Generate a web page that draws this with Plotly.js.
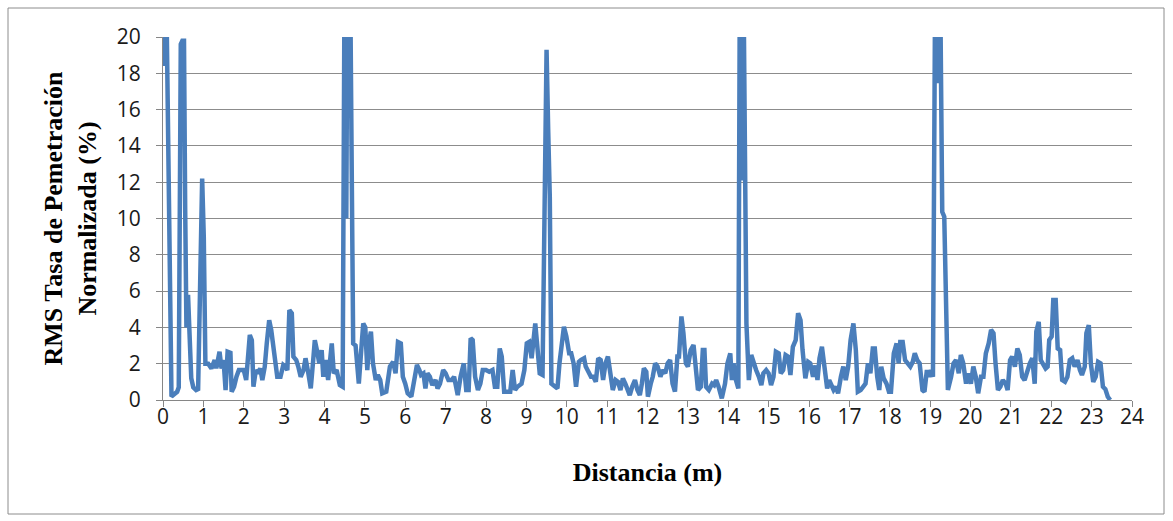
<!DOCTYPE html>
<html>
<head>
<meta charset="utf-8">
<script src="https://cdn.plot.ly/plotly-3.0.1.min.js"></script>
<style>
  html, body { margin: 0; padding: 0; background: #fff; }
  #chart { width: 1173px; height: 521px; }
</style>
</head>
<body>
<div id="chart"></div>
<script>
// Distancia recorrida (m)
const distancia = [
  0.00, 0.05, 0.09, 0.21, 0.27, 0.35, 0.39, 0.44, 0.48, 0.52, 0.55, 0.58, 0.62, 0.66, 0.70, 0.75, 0.82, 0.87, 0.92, 0.97,
  1.01, 1.05, 1.12, 1.20, 1.28, 1.32, 1.40, 1.45, 1.50, 1.55, 1.60, 1.67, 1.70, 1.76, 1.82, 1.88, 2.00, 2.06, 2.15, 2.20,
  2.24, 2.30, 2.36, 2.41, 2.46, 2.52, 2.57, 2.63, 2.68, 2.75, 2.83, 2.91, 2.98, 3.03, 3.08, 3.13, 3.19, 3.23, 3.30, 3.35,
  3.41, 3.48, 3.53, 3.60, 3.66, 3.72, 3.76, 3.82, 3.87, 3.93, 3.97, 4.03, 4.09, 4.18, 4.23, 4.30, 4.38, 4.45, 4.50, 4.54,
  4.57, 4.64, 4.71, 4.77, 4.85, 4.91, 4.96, 5.01, 5.06, 5.11, 5.15, 5.20, 5.27, 5.32, 5.38, 5.43, 5.53, 5.62, 5.70, 5.76,
  5.82, 5.89, 5.94, 6.00, 6.06, 6.15, 6.23, 6.29, 6.35, 6.39, 6.45, 6.50, 6.55, 6.61, 6.67, 6.75, 6.80, 6.86, 6.94, 7.00,
  7.07, 7.15, 7.21, 7.26, 7.30, 7.37, 7.45, 7.51, 7.57, 7.62, 7.67, 7.73, 7.80, 7.86, 7.92, 8.00, 8.08, 8.16, 8.22, 8.28,
  8.34, 8.39, 8.45, 8.53, 8.60, 8.66, 8.72, 8.78, 8.88, 8.95, 9.01, 9.07, 9.13, 9.22, 9.29, 9.33, 9.40, 9.46, 9.50, 9.54,
  9.58, 9.62, 9.71, 9.77, 9.82, 9.87, 9.93, 9.99, 10.06, 10.11, 10.17, 10.23, 10.30, 10.35, 10.43, 10.47, 10.54, 10.60, 10.66, 10.72,
  10.78, 10.84, 10.90, 10.96, 11.02, 11.08, 11.14, 11.21, 11.27, 11.33, 11.39, 11.45, 11.51, 11.56, 11.62, 11.69, 11.75, 11.81, 11.86, 11.91,
  11.97, 12.01, 12.08, 12.13, 12.19, 12.25, 12.32, 12.38, 12.44, 12.50, 12.56, 12.62, 12.68, 12.74, 12.78, 12.84, 12.89, 12.95, 13.00, 13.07,
  13.14, 13.19, 13.25, 13.32, 13.37, 13.41, 13.45, 13.52, 13.60, 13.65, 13.70, 13.76, 13.84, 13.92, 13.98, 14.05, 14.09, 14.13, 14.19, 14.25,
  14.29, 14.33, 14.37, 14.45, 14.51, 14.57, 14.63, 14.69, 14.76, 14.82, 14.87, 14.94, 15.00, 15.06, 15.12, 15.18, 15.25, 15.30, 15.36, 15.42,
  15.48, 15.54, 15.60, 15.67, 15.73, 15.79, 15.84, 15.91, 15.98, 16.03, 16.10, 16.16, 16.21, 16.26, 16.32, 16.38, 16.45, 16.50, 16.56, 16.61,
  16.67, 16.72, 16.79, 16.85, 16.91, 16.97, 17.03, 17.10, 17.16, 17.21, 17.28, 17.34, 17.40, 17.46, 17.52, 17.58, 17.63, 17.69, 17.74, 17.79,
  17.85, 17.92, 17.98, 18.03, 18.10, 18.17, 18.22, 18.26, 18.32, 18.38, 18.44, 18.51, 18.57, 18.62, 18.68, 18.74, 18.81, 18.86, 18.92, 18.97,
  19.02, 19.07, 19.13, 19.19, 19.24, 19.30, 19.35, 19.44, 19.52, 19.58, 19.64, 19.71, 19.76, 19.82, 19.89, 19.94, 20.01, 20.07, 20.13, 20.19,
  20.26, 20.32, 20.38, 20.45, 20.51, 20.57, 20.62, 20.68, 20.74, 20.80, 20.87, 20.92, 20.98, 21.03, 21.10, 21.16, 21.22, 21.28, 21.34, 21.41,
  21.47, 21.53, 21.59, 21.63, 21.69, 21.74, 21.80, 21.86, 21.91, 21.95, 22.01, 22.05, 22.11, 22.16, 22.22, 22.27, 22.34, 22.40, 22.46, 22.52,
  22.58, 22.65, 22.71, 22.76, 22.83, 22.87, 22.93, 22.98, 23.04, 23.10, 23.16, 23.22, 23.28, 23.34, 23.40, 23.46
];

// RMS de la tasa de penetración normalizada (%)
const rmsTasa = [
  22.0, 18.4, 21.0, 0.2, 0.3, 0.45, 0.7, 19.6, 19.8, 19.8, 10.4, 4.0, 5.8, 3.9, 1.2, 0.7, 0.55, 0.6, 6.0, 12.2,
  9.0, 2.0, 2.0, 1.74, 2.2, 1.74, 2.66, 1.74, 2.2, 0.55, 2.66, 2.6, 0.46, 0.73, 1.28, 1.65, 1.65, 1.1, 3.58, 3.3,
  0.73, 1.65, 1.47, 1.74, 1.1, 1.84, 3.12, 4.4, 3.86, 2.75, 1.28, 1.28, 1.93, 1.84, 1.65, 4.96, 4.78, 2.39, 2.2, 1.84,
  1.28, 1.65, 2.3, 1.47, 0.64, 2.2, 3.3, 2.66, 2.02, 2.75, 1.28, 2.2, 1.1, 3.12, 1.47, 1.65, 0.82, 0.73, 25.0, 10.0,
  24.0, 22.0, 3.12, 3.0, 0.9, 2.75, 4.22, 4.0, 1.65, 3.3, 3.77, 2.02, 1.1, 1.38, 1.1, 0.37, 0.46, 1.84, 2.1, 1.47,
  3.2, 3.12, 1.28, 0.9, 0.37, 0.18, 1.1, 1.93, 1.65, 1.38, 1.47, 0.64, 1.47, 1.28, 0.82, 1.1, 0.64, 0.9, 1.65, 1.47,
  1.1, 1.1, 1.28, 0.73, 0.27, 1.28, 2.02, 0.55, 0.55, 3.4, 3.3, 1.28, 0.55, 0.9, 1.65, 1.65, 1.56, 1.65, 0.73, 0.73,
  2.84, 2.39, 0.46, 0.46, 0.46, 1.65, 0.55, 0.73, 0.9, 1.65, 3.12, 3.2, 2.3, 4.22, 2.75, 1.47, 1.38, 10.8, 19.3, 14.9,
  11.2, 0.9, 0.73, 0.64, 2.02, 2.93, 4.04, 3.5, 2.57, 2.57, 2.02, 0.73, 2.1, 2.2, 2.3, 1.84, 1.47, 1.28, 1.28, 1.0,
  2.3, 2.2, 1.1, 2.02, 2.39, 1.28, 0.55, 1.1, 1.0, 0.55, 1.19, 0.9, 0.55, 0.27, 0.73, 1.1, 0.55, 0.27, 0.9, 1.74,
  1.56, 0.18, 0.9, 1.28, 2.02, 1.84, 1.28, 1.65, 1.47, 2.02, 2.2, 0.9, 0.46, 2.39, 2.39, 4.6, 3.68, 2.02, 1.84, 2.75,
  3.03, 2.02, 0.55, 0.73, 2.75, 2.75, 0.73, 0.55, 0.9, 0.82, 1.1, 0.73, 0.09, 0.9, 2.02, 2.57, 1.1, 2.02, 1.1, 0.64,
  25.0, 12.1, 25.0, 4.22, 1.1, 2.48, 2.02, 1.65, 1.28, 0.82, 1.47, 1.65, 1.47, 0.82, 1.28, 2.66, 2.57, 1.47, 1.65, 2.48,
  2.39, 1.38, 2.93, 3.3, 4.78, 4.4, 2.75, 1.19, 2.1, 2.02, 1.28, 1.9, 1.1, 2.3, 2.93, 1.84, 0.64, 1.1, 0.82, 0.55,
  0.73, 0.37, 1.28, 1.84, 1.1, 1.84, 3.3, 4.22, 2.75, 0.46, 0.55, 0.73, 0.9, 2.02, 1.47, 2.84, 2.84, 1.28, 0.55, 1.84,
  1.19, 0.9, 0.46, 0.46, 2.57, 3.12, 2.02, 3.2, 3.2, 2.2, 2.02, 1.84, 2.1, 2.57, 2.2, 2.02, 0.55, 0.46, 1.65, 1.28,
  1.65, 1.28, 25.0, 17.45, 25.0, 10.37, 10.1, 0.55, 1.28, 2.02, 2.2, 1.47, 2.48, 2.02, 0.9, 1.47, 0.9, 1.84, 1.28, 0.37,
  1.28, 1.28, 2.57, 3.12, 3.86, 3.68, 2.02, 0.55, 0.73, 1.1, 0.9, 0.55, 2.2, 2.39, 1.84, 2.84, 2.48, 1.28, 1.1, 1.65,
  2.02, 2.3, 0.9, 3.77, 4.31, 2.2, 2.02, 1.74, 1.84, 3.3, 3.5, 5.51, 5.51, 2.84, 2.75, 1.1, 1.0, 1.28, 2.2, 2.3,
  1.84, 2.2, 1.65, 1.38, 1.84, 3.68, 4.13, 2.02, 1.0, 1.28, 2.1, 2.02, 0.73, 0.6, 0.18, 0.0
];

const xTicks = [];
for (let i = 0; i <= 24; i++) xTicks.push(i);
const yTicks = [0, 2, 4, 6, 8, 10, 12, 14, 16, 18, 20];

const tickFont = { family: 'Open Sans, Noto Sans, sans-serif', size: 21, color: '#1a1a1a' };
const titleFont = { family: 'Liberation Serif, Times New Roman, serif', size: 26, color: '#000', weight: 'bold' };

const trace = {
  type: 'scatter',
  mode: 'lines',
  x: distancia,
  y: rmsTasa,
  line: { color: '#4a7ebb', width: 4.5, shape: 'linear' },
  hoverinfo: 'x+y',
  showlegend: false
};

const layout = {
  width: 1173,
  height: 521,
  margin: { l: 163, r: 41, t: 37, b: 121 },
  paper_bgcolor: '#ffffff',
  plot_bgcolor: '#ffffff',
  showlegend: false,
  xaxis: {
    range: [0, 24],
    tickmode: 'array',
    tickvals: xTicks,
    ticktext: xTicks.map(String),
    showgrid: false,
    zeroline: false,
    showline: true,
    linecolor: '#868686',
    linewidth: 1,
    ticks: 'outside',
    ticklen: 6,
    tickcolor: '#868686',
    ticklabelstandoff: -8,
    tickfont: tickFont,
    title: { text: 'Distancia (m)', font: titleFont, standoff: 33 }
  },
  yaxis: {
    range: [0, 20],
    tickmode: 'array',
    tickvals: yTicks,
    ticktext: yTicks.map(String),
    showgrid: true,
    gridcolor: '#8c8c8c',
    gridwidth: 1,
    zeroline: false,
    showline: true,
    linecolor: '#868686',
    linewidth: 1,
    ticks: 'outside',
    ticklen: 6,
    tickcolor: '#868686',
    ticklabelstandoff: 11,
    tickfont: tickFont,
    title: { text: 'RMS Tasa de Pemetración<br>Normalizada (%)', font: titleFont, standoff: 12 }
  },
  shapes: [{
    type: 'rect',
    xref: 'paper', yref: 'paper',
    x0: (8 - 163) / 969, x1: (1164 - 163) / 969,
    y0: (400 - 514) / 363, y1: (400 - 8) / 363,
    line: { color: '#8c8c8c', width: 1 },
    fillcolor: 'rgba(0,0,0,0)',
    layer: 'below'
  }]
};

Plotly.newPlot('chart', [trace], layout, { displayModeBar: false, staticPlot: true });
</script>
</body>
</html>
